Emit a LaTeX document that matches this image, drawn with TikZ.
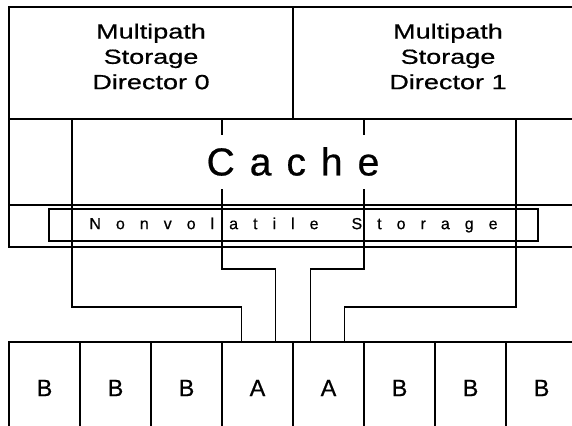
\documentclass[tikz,border=0pt]{standalone}
\usepackage{fontspec}
\setmainfont{Liberation Sans}[FakeBold=0.6]
\newfontfamily\dirfont{Liberation Sans}[FakeStretch=1.32,FakeBold=0.6]
\usetikzlibrary{calc}
\newdimen\lsp
\newcommand\ltr{\hskip\lsp}
\begin{document}
\begin{tikzpicture}[x=1pt,y=-1pt,
  box/.style={draw, rectangle, line width=1.7pt, inner sep=0pt, outer sep=0pt},
  cell/.style={box, minimum width=71pt, minimum height=92pt, font=\fontsize{23.5}{28}\selectfont},
  dirtxt/.style={align=center, inner sep=0pt, font=\dirfont\fontsize{20.5}{25.3}\selectfont},
  conn/.style={line width=1.2pt}]
\useasboundingbox (0,0) rectangle (572,425);
\clip (0,0) rectangle (572,425);
% frame
\node[box, minimum width=284pt, minimum height=112pt, anchor=north west] (dir0) at (9,7) {};
\node[box, minimum width=310pt, minimum height=112pt, anchor=north west] (dir1) at (293,7) {};
\node[box, minimum width=600pt, minimum height=86pt, anchor=north west] (cacherow) at (9,119) {};
\node[box, minimum width=600pt, minimum height=42pt, anchor=north west] (nvsrow) at (9,205) {};
% bottom cells
\foreach \t [count=\i] in {B,B,B,A,A,B,B,B}
  \node[cell] (b\i) at ({44.5+71*(\i-1)},388) {\t};
% director texts
\node[dirtxt] (t0) at (151,56.5) {Multipath\\Storage\\Director 0};
\node[dirtxt] (t1) at (448,56.5) {Multipath\\Storage\\Director 1};
% connectors
\coordinate (p1) at (72,119);
\coordinate (p2) at (222,119);
\coordinate (p3) at (364,119);
\coordinate (p4) at (516,119);
\coordinate (h1) at (0,307);
\coordinate (h2) at (0,269);
\coordinate (q1) at ($(b4.north west)+(19.5,0)$);
\coordinate (q2) at ($(b4.north west)+(53.3,0)$);
\coordinate (q3) at ($(b5.north west)+(17.7,0)$);
\coordinate (q4) at ($(b5.north west)+(51.5,0)$);
\draw[conn] (p1) -- (p1 |- h1) -| (q1);
\draw[conn] (p2) -- (p2 |- h2) -| (q2);
\draw[conn] (p3) -- (p3 |- h2) -| (q3);
\draw[conn] (p4) -- (p4 |- h1) -| (q4);
% cache label
\node[fill=white, inner sep=0pt, minimum width=186pt, minimum height=54pt,
      font=\fontsize{39}{40}\selectfont] (cache) at (293,161.5)
  {\lsp=15pt C\ltr a\ltr c\ltr h\ltr e};
% nonvolatile storage
\node[draw, line width=1.9pt, inner sep=0pt, minimum width=489pt, minimum height=32pt,
      font=\fontsize{16}{18}\selectfont] (nvs) at (293.5,225)
  {\lsp=15pt N\ltr o\ltr n\ltr v\ltr o\ltr l\ltr a\ltr t\ltr i\ltr l\ltr e\hskip33pt S\ltr t\ltr o\ltr r\ltr a\ltr g\ltr e};
\end{tikzpicture}
\end{document}
